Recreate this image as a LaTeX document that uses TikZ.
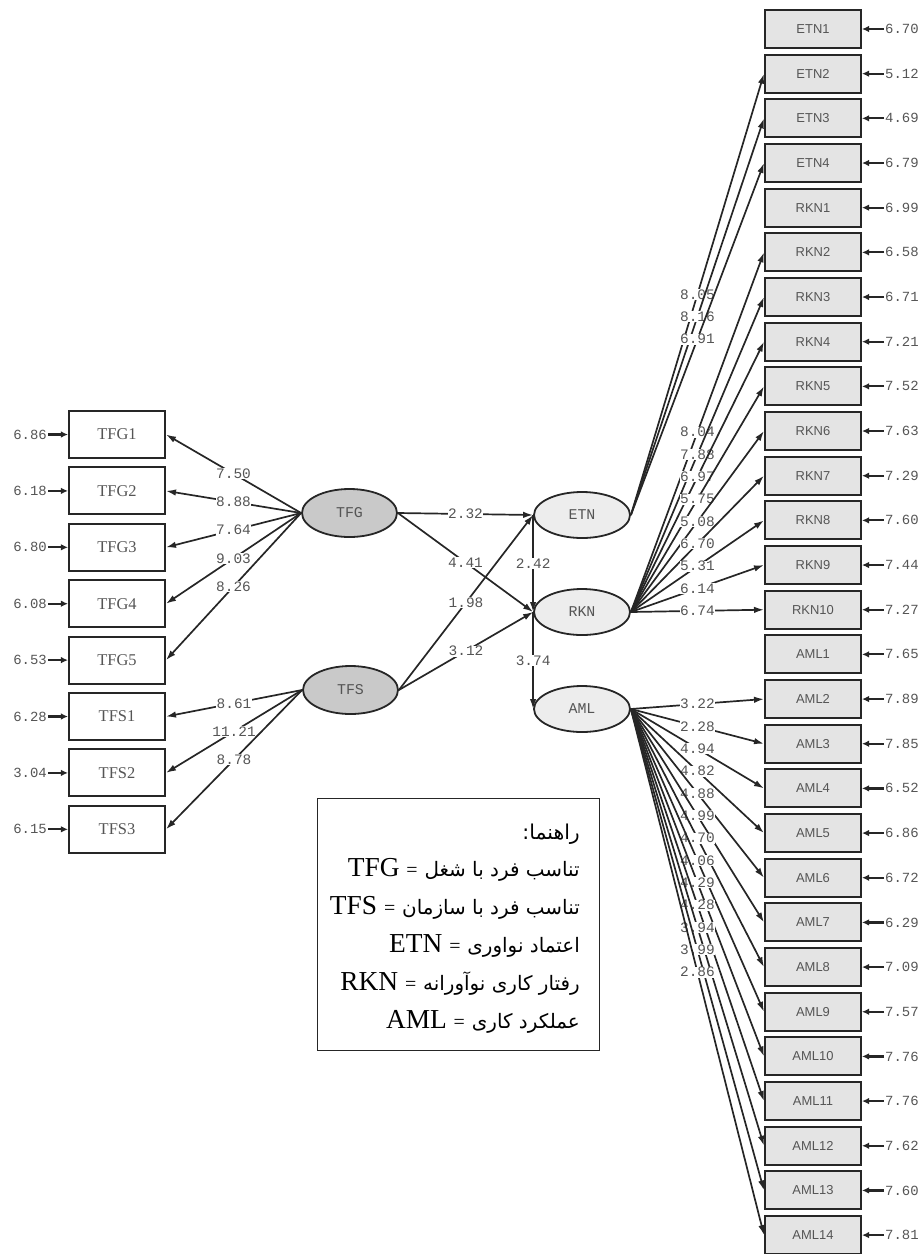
\documentclass[tikz,border=0pt]{standalone}
\usepackage{fontspec}
\setmainfont{Liberation Serif}
\newfontfamily\monof{Liberation Mono}
\newfontfamily\sansf{Liberation Sans}
\newfontfamily\arabicfont[Script=Arabic]{DejaVu Sans}
\TeXXeTstate=1
\usetikzlibrary{arrows.meta,shapes.geometric}
\definecolor{ln}{HTML}{262626}
\definecolor{txt}{HTML}{555555}
\definecolor{rboxfill}{HTML}{E4E4E4}
\definecolor{exofill}{HTML}{C9C9C9}
\definecolor{endofill}{HTML}{EDEDED}
\begin{document}
\begin{tikzpicture}[x=1bp,y=-1bp,
  obsr/.style={draw=ln, line width=2bp, fill=rboxfill, minimum width=96bp, minimum height=38bp, inner sep=0pt, font=\sansf\fontsize{13}{15}\selectfont, text=txt},
  obsl/.style={draw=ln, line width=2bp, fill=white, minimum width=96bp, minimum height=47bp, inner sep=0pt, font=\fontsize{16.5}{18}\selectfont, text=txt},
  exo/.style={ellipse, draw=ln, line width=1.8bp, fill=exofill, minimum width=95bp, minimum height=48bp, inner sep=0pt, font=\monof\fontsize{15}{17}\selectfont, text=txt},
  endo/.style={ellipse, draw=ln, line width=1.8bp, fill=endofill, minimum width=96bp, minimum height=46bp, inner sep=0pt, font=\monof\fontsize{15}{17}\selectfont, text=txt},
  num/.style={font=\monof\fontsize{14.5}{16}\selectfont, text=txt, fill=white, inner sep=0.6bp},
  errtxt/.style={font=\monof\fontsize{14}{16}\selectfont, text=txt, inner sep=1bp},
  arr/.style={draw=ln, line width=1.7bp, -{Latex[length=10bp,width=6.5bp]}},
  errarr/.style={draw=ln, line width=2.2bp, -{Latex[length=7bp,width=6.5bp]}},
  leg/.style={inner sep=0pt, text=black},
]
\useasboundingbox (0,0) rectangle (922,1254);

% right observed variables
\foreach \n/\e [count=\i from 0] in {ETN1/6.70,ETN2/5.12,ETN3/4.69,ETN4/6.79,RKN1/6.99,RKN2/6.58,RKN3/6.71,RKN4/7.21,RKN5/7.52,RKN6/7.63,RKN7/7.29,RKN8/7.60,RKN9/7.44,RKN10/7.27,AML1/7.65,AML2/7.89,AML3/7.85,AML4/6.52,AML5/6.86,AML6/6.72,AML7/6.29,AML8/7.09,AML9/7.57,AML10/7.76,AML11/7.76,AML12/7.62,AML13/7.60,AML14/7.81}{
  \node[obsr] (\n) at (813,{29+44.67*\i}) {\n};
  \node[errtxt, anchor=west] (e\n) at (884,{29+44.67*\i}) {\e};
  \draw[errarr] (e\n.west) -- (\n.east);
}

% left observed variables
\foreach \n/\e [count=\i from 0] in {TFG1/6.86,TFG2/6.18,TFG3/6.80,TFG4/6.08,TFG5/6.53,TFS1/6.28,TFS2/3.04,TFS3/6.15}{
  \node[obsl] (\n) at (117,{434.5+56.4*\i}) {\n};
  \node[errtxt, anchor=east] (e\n) at (48,{434.5+56.4*\i}) {\e};
  \draw[errarr] (e\n.east) -- (\n.west);
}

% latent variables
\node[exo] (TFG) at (349.5,513) {TFG};
\node[exo] (TFS) at (350.5,690) {TFS};
\node[endo] (ETN) at (582,515) {ETN};
\node[endo] (RKN) at (582,612) {RKN};
\node[endo] (AML) at (582,709) {AML};

% loadings of exogenous
\foreach \t/\v in {TFG1/7.50,TFG2/8.88,TFG3/7.64,TFG4/9.03,TFG5/8.26}{
  \draw[arr] (TFG.west) -- node[num] {\v} (\t.east);
}
\foreach \t/\v in {TFS1/8.61,TFS2/11.21,TFS3/8.78}{
  \draw[arr] (TFS.west) -- node[num] {\v} (\t.east);
}

% structural paths
\draw[arr] (TFG.east) -- node[num] {2.32} (ETN.west);
\draw[arr] (TFG.east) -- node[num] {4.41} (RKN.west);
\draw[arr] (TFS.east) -- node[num] {1.98} (ETN.west);
\draw[arr] (TFS.east) -- node[num] {3.12} (RKN.west);
\draw[arr] (ETN.west) -- node[num] {2.42} (RKN.west);
\draw[arr] (RKN.west) -- node[num] {3.74} (AML.west);

% loadings of endogenous
\foreach \t/\v in {ETN2/8.05,ETN3/8.16,ETN4/6.91}{
  \draw[arr] (ETN.east) -- node[num] {\v} (\t.west);
}
\foreach \t/\v in {RKN2/8.04,RKN3/7.88,RKN4/6.97,RKN5/5.75,RKN6/5.08,RKN7/6.70,RKN8/5.31,RKN9/6.14,RKN10/6.74}{
  \draw[arr] (RKN.east) -- node[num] {\v} (\t.west);
}
\foreach \t/\v in {AML2/3.22,AML3/2.28,AML4/4.94,AML5/4.82,AML6/4.88,AML7/4.99,AML8/4.70,AML9/4.06,AML10/4.29,AML11/4.28,AML12/3.94,AML13/3.99,AML14/2.86}{
  \draw[arr] (AML.east) -- node[num] {\v} (\t.west);
}

% legend
\node[draw=ln, line width=1bp, minimum width=282bp, minimum height=252bp, inner sep=0pt] (legend) at (458,924) {};
\node[leg, anchor=base east] (leg1) at (580,839) {\arabicfont\fontsize{20.5}{24}\selectfont :\beginR راهنما\endR};
\node[leg, anchor=base east] (leg2) at (580,876) {\fontsize{27.5}{32}\selectfont TFG {\fontsize{20}{24}\selectfont =} {\arabicfont\fontsize{20}{24}\selectfont\beginR تناسب فرد با شغل\endR}};
\node[leg, anchor=base east] (leg3) at (580,914) {\fontsize{27.5}{32}\selectfont TFS {\fontsize{20}{24}\selectfont =} {\arabicfont\fontsize{20}{24}\selectfont\beginR تناسب فرد با سازمان\endR}};
\node[leg, anchor=base east] (leg4) at (580,952) {\fontsize{27.5}{32}\selectfont ETN {\fontsize{20}{24}\selectfont =} {\arabicfont\fontsize{20}{24}\selectfont\beginR اعتماد نواوری\endR}};
\node[leg, anchor=base east] (leg5) at (580,990) {\fontsize{27.5}{32}\selectfont RKN {\fontsize{20}{24}\selectfont =} {\arabicfont\fontsize{20}{24}\selectfont\beginR رفتار کاری نوآورانه\endR}};
\node[leg, anchor=base east] (leg6) at (580,1028) {\fontsize{27.5}{32}\selectfont AML {\fontsize{20}{24}\selectfont =} {\arabicfont\fontsize{20}{24}\selectfont\beginR عملکرد کاری\endR}};
\end{tikzpicture}
\end{document}
